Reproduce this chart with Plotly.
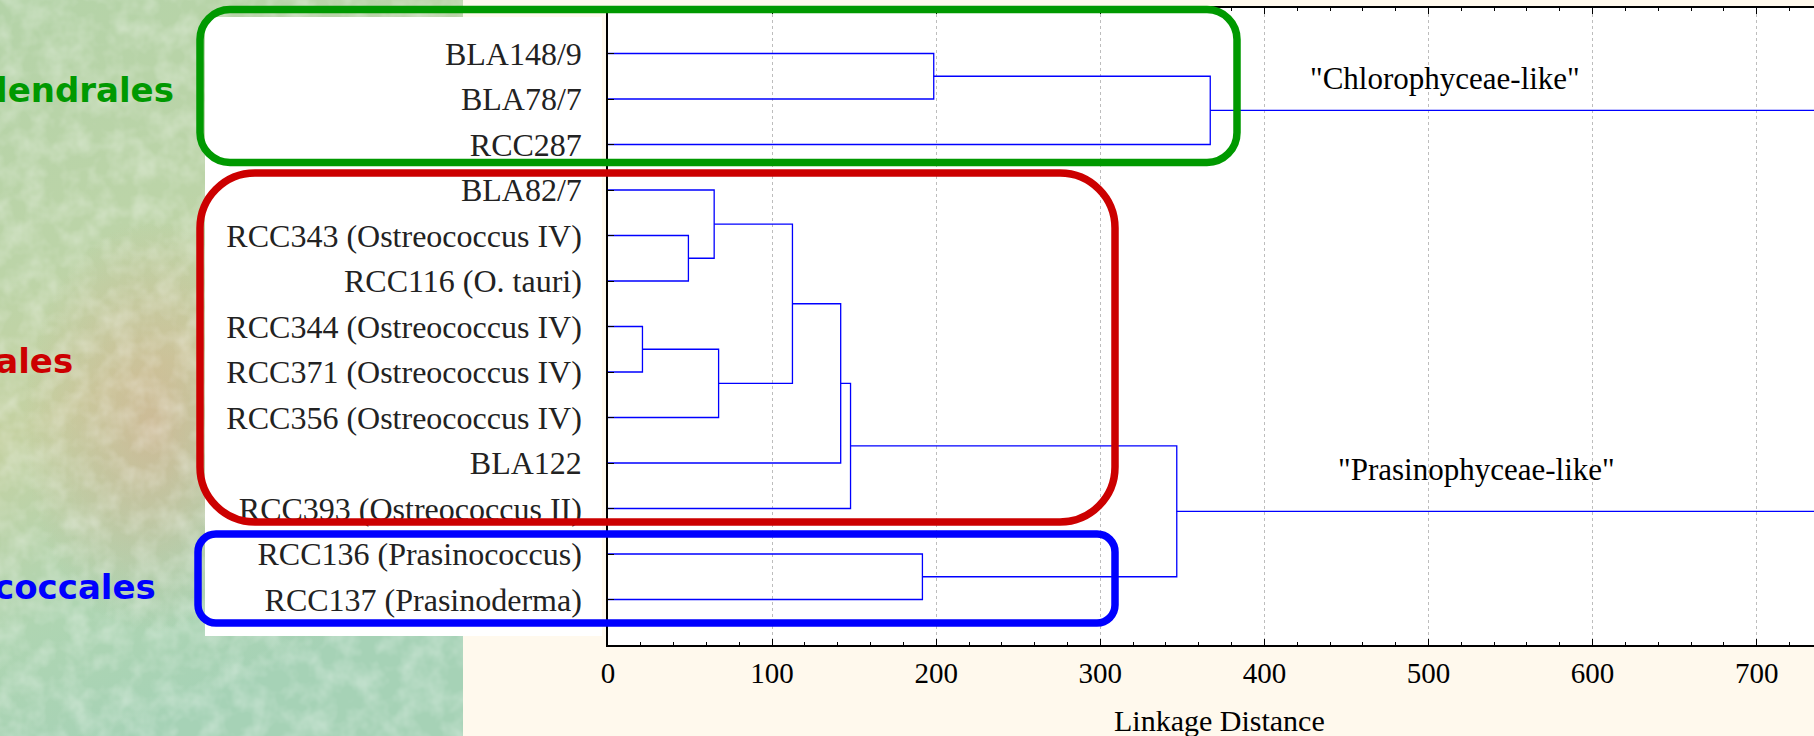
import base64
import plotly.graph_objects as go

# ---------------- data ----------------
leaf_labels = [
    "BLA148/9", "BLA78/7", "RCC287", "BLA82/7",
    "RCC343 (Ostreococcus IV)", "RCC116 (O. tauri)",
    "RCC344 (Ostreococcus IV)", "RCC371 (Ostreococcus IV)",
    "RCC356 (Ostreococcus IV)", "BLA122", "RCC393 (Ostreococcus II)",
    "RCC136 (Prasinococcus)", "RCC137 (Prasinoderma)",
]
# linkage (scipy-like): children index leaves 0..12 or clusters 13+k
merge_left = [0, 13, 4, 3, 6, 17, 16, 19, 20, 11, 21, 14]
merge_right = [1, 2, 5, 15, 7, 8, 18, 9, 10, 12, 22, 23]
merge_height = [198.5, 367.0, 49.0, 64.7, 21.0, 67.4, 112.4, 141.8, 147.8, 191.6, 346.6, 790.0]

group_names = ["Chlorodendrales", "Mamiellales", "Prasinococcales"]
group_colors = ["#009900", "#cc0000", "#0000ff"]
clade_labels = ['"Chlorophyceae-like"', '"Prasinophyceae-like"']

# ---------------- geometry helpers ----------------
W, H = 1814, 736
ML, MR, MT, MB = 608, 0, 8, 91
PW, PH = W - ML - MR, H - MT - MB


def X(px):
    return (px - ML) / PW


def Y(py):
    return (H - MB - py) / PH


def rrect(x0, y0, x1, y1, r):
    k = 0.5523 * r
    pts = [
        f"M {X(x0 + r)},{Y(y0)}",
        f"L {X(x1 - r)},{Y(y0)}",
        f"C {X(x1 - r + k)},{Y(y0)} {X(x1)},{Y(y0 + r - k)} {X(x1)},{Y(y0 + r)}",
        f"L {X(x1)},{Y(y1 - r)}",
        f"C {X(x1)},{Y(y1 - r + k)} {X(x1 - r + k)},{Y(y1)} {X(x1 - r)},{Y(y1)}",
        f"L {X(x0 + r)},{Y(y1)}",
        f"C {X(x0 + r - k)},{Y(y1)} {X(x0)},{Y(y1 - r + k)} {X(x0)},{Y(y1 - r)}",
        f"L {X(x0)},{Y(y0 + r)}",
        f"C {X(x0)},{Y(y0 + r - k)} {X(x0 + r - k)},{Y(y0)} {X(x0 + r)},{Y(y0)}",
        "Z",
    ]
    return " ".join(pts)


# ---------------- dendrogram segments ----------------
n = len(leaf_labels)
pos = {i: i + 1 for i in range(n)}
hgt = {i: 0.0 for i in range(n)}
xs, ys = [], []
for k, (a, b, h) in enumerate(zip(merge_left, merge_right, merge_height)):
    node = n + k
    pos[node] = (pos[a] + pos[b]) / 2
    hgt[node] = h
    xs += [hgt[a], h, h, hgt[b], None]
    ys += [pos[a], pos[a], pos[b], pos[b], None]

fig = go.Figure()
fig.add_trace(go.Scatter(x=xs, y=ys, mode="lines",
                         line=dict(color="#0000ff", width=1.3),
                         hoverinfo="skip", showlegend=False))

serif = "Liberation Serif, Times New Roman, serif"

# ---------------- background texture (left decoration) ----------------
svg = """<svg xmlns='http://www.w3.org/2000/svg' width='463' height='736' viewBox='0 0 463 736' preserveAspectRatio='none'>
<defs>
<linearGradient id='g' x1='0' y1='0' x2='0.3' y2='1'>
<stop offset='0' stop-color='#b4d3a8'/>
<stop offset='0.35' stop-color='#bcd4a8'/>
<stop offset='0.55' stop-color='#c5d1a2'/>
<stop offset='0.8' stop-color='#afd5b2'/>
<stop offset='1' stop-color='#a6d2b6'/>
</linearGradient>
<radialGradient id='r' cx='0.33' cy='0.58' r='0.28'>
<stop offset='0' stop-color='#d8a88a' stop-opacity='0.55'/>
<stop offset='1' stop-color='#d8a88a' stop-opacity='0'/>
</radialGradient>
<filter id='n' x='0' y='0' width='100%' height='100%'>
<feTurbulence type='fractalNoise' baseFrequency='0.045' numOctaves='3' seed='7'/>
<feColorMatrix type='matrix' values='0 0 0 0 1  0 0 0 0 1  0 0 0 0 1  0 0 0 0.6 -0.22'/>
</filter>
</defs>
<rect width='463' height='736' fill='url(#g)'/>
<rect width='463' height='736' fill='url(#r)'/>
<rect width='463' height='736' filter='url(#n)'/>
</svg>"""
src = "data:image/svg+xml;base64," + base64.b64encode(svg.encode()).decode()
fig.add_layout_image(dict(source=src, xref="paper", yref="paper",
                          x=X(0), y=Y(0), sizex=463 / PW, sizey=H / PH,
                          xanchor="left", yanchor="top", sizing="stretch",
                          layer="below"))

shapes = []
# white label panel
shapes.append(dict(type="rect", xref="paper", yref="paper",
                   x0=X(205), x1=X(602), y0=Y(17), y1=Y(636),
                   fillcolor="white", line=dict(width=0), layer="below"))
# group boxes
boxes = [(200, 9.5, 1237, 162.5, 30), (200, 173, 1115, 522, 55), (198, 534, 1115, 623, 18)]
for (x0, y0, x1, y1, r), c in zip(boxes, group_colors):
    shapes.append(dict(type="path", xref="paper", yref="paper",
                       path=rrect(x0, y0, x1, y1, r),
                       line=dict(color=c, width=7.5), layer="above"))
fig.update_layout(shapes=shapes)

annotations = []
name_pos = [(175, 90), (74, 361), (157, 587)]
for name, c, (px, py) in zip(group_names, group_colors, name_pos):
    annotations.append(dict(text="<b>" + name + "</b>", xref="paper", yref="paper",
                            x=X(px), y=Y(py), xanchor="right", yanchor="middle",
                            showarrow=False, borderpad=0,
                            font=dict(family="DejaVu Sans", size=34, color=c)))
annotations.append(dict(text=clade_labels[0], x=510, y=1.54, xref="x", yref="y",
                        showarrow=False, xanchor="center", yanchor="middle",
                        font=dict(family=serif, size=31, color="black")))
annotations.append(dict(text=clade_labels[1], x=529, y=10.15, xref="x", yref="y",
                        showarrow=False, xanchor="center", yanchor="middle",
                        font=dict(family=serif, size=31, color="black")))
annotations.append(dict(text="Linkage Distance", xref="paper", yref="paper",
                        x=X(1219), y=Y(721), xanchor="center", yanchor="middle",
                        showarrow=False,
                        font=dict(family=serif, size=30, color="black")))
fig.update_layout(annotations=annotations)

fig.update_layout(
    width=W, height=H,
    margin=dict(l=ML, r=MR, t=MT, b=MB, pad=0),
    paper_bgcolor="#fff9ed",
    plot_bgcolor="white",
    showlegend=False,
    xaxis=dict(range=[0, PW / 1.641], dtick=100, tick0=0,
               showline=True, linecolor="black", linewidth=1.5, mirror="ticks",
               ticks="inside", ticklen=6, tickwidth=1.3, tickcolor="black",
               minor=dict(dtick=20, ticks="inside", ticklen=3, tickwidth=1,
                          tickcolor="black", showgrid=False),
               showgrid=True, gridcolor="#bdbdbd", griddash="dot", gridwidth=1,
               zeroline=False, ticklabelstandoff=1,
               tickfont=dict(family=serif, size=29, color="black")),
    yaxis=dict(range=[14, 0], tickvals=list(range(1, n + 1)), ticktext=leaf_labels,
               showline=True, linecolor="black", linewidth=1.5, mirror=False,
               ticks="inside", ticklen=6, tickwidth=1.3, tickcolor="black",
               showgrid=False, zeroline=False, ticklabelstandoff=18,
               tickfont=dict(family=serif, size=32, color="#222222")),
)

fig.write_html("out.html",
               config={"displayModeBar": False},
               post_script="document.body.style.margin='0';"
                           "document.body.style.overflow='hidden';")
